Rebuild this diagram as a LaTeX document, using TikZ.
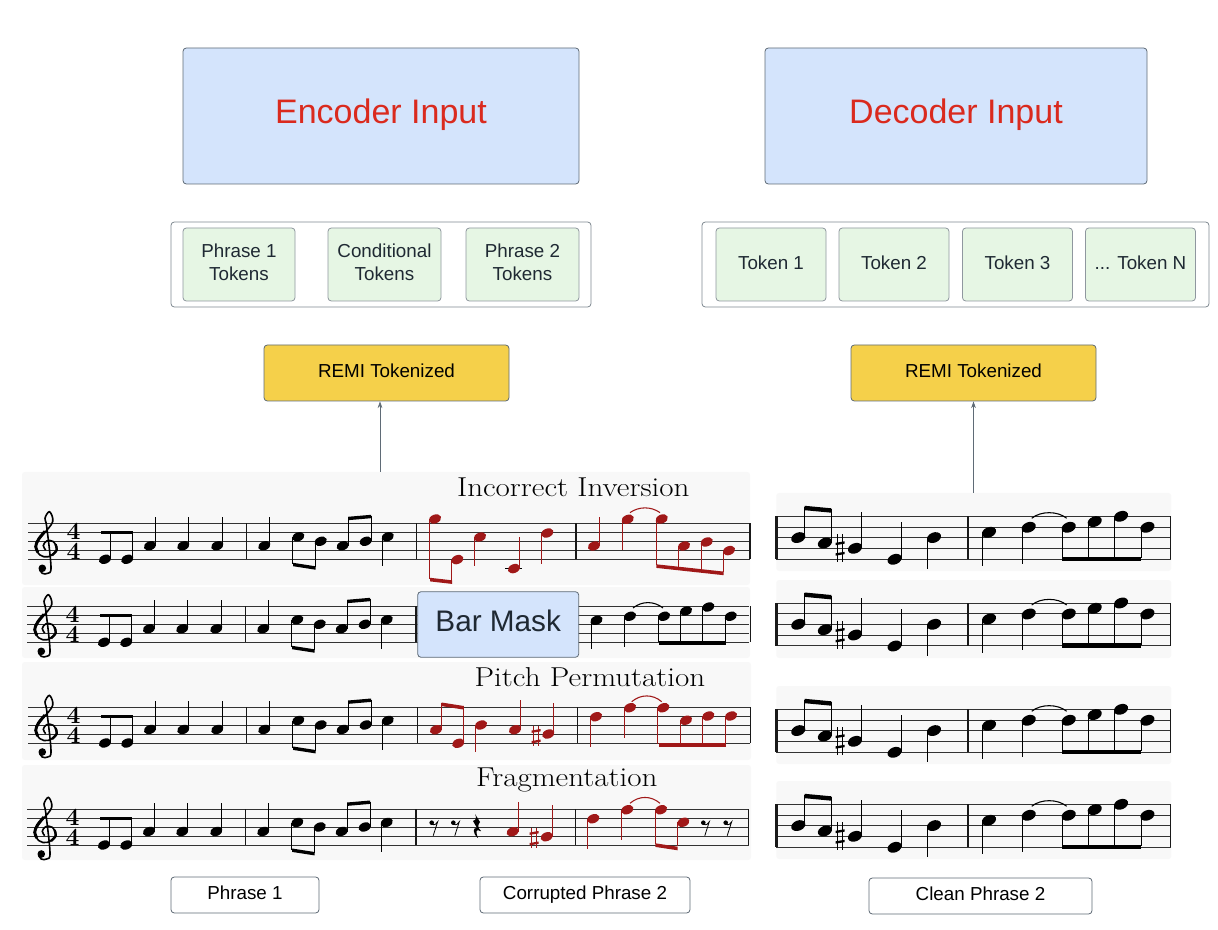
\documentclass[tikz,border=0pt]{standalone}
\usepackage{fontspec}
\usetikzlibrary{arrows.meta}
\newfontfamily\boxfont{Liberation Sans}
\definecolor{inputblue}{HTML}{D4E4FC}
\definecolor{tokengreen}{HTML}{E6F6E4}
\definecolor{remiyellow}{HTML}{F5D04A}
\definecolor{edgegrey}{HTML}{5F6B76}
\definecolor{wrongred}{HTML}{A01818}
\definecolor{panelgrey}{HTML}{F8F8F8}
\definecolor{inktext}{HTML}{1F2933}
\definecolor{titlered}{HTML}{DA2A1E}

\tikzset{
  box/.style={draw=edgegrey,line width=0.6pt,rounded corners=2.5pt,font=\boxfont\fontsize{14.1}{17.25}\selectfont,text=inktext,align=center,inner sep=0pt,text depth=3pt},
  inputbox/.style={box,fill=inputblue,minimum height=102pt,text=titlered,font=\boxfont\fontsize{25.5}{30}\selectfont,text depth=7pt},
  groupbox/.style={box,fill=white,minimum height=63.75pt,draw=edgegrey!80},
  tokenbox/.style={box,fill=tokengreen,minimum height=54.75pt,draw=edgegrey!70},
  remibox/.style={box,fill=remiyellow,minimum width=183.75pt,minimum height=42pt,text=black},
  namebox/.style={box,fill=white,minimum height=27pt,text=black},
  panel/.style={fill=panelgrey,rounded corners=2pt,inner sep=0pt},
  heading/.style={font=\fontsize{20.5}{24}\selectfont,inner sep=0pt,anchor=base,xscale=1.135},
  flow/.style={draw=edgegrey,line width=0.5pt,-{Stealth[length=5pt,width=3.5pt]}},
  stem/.style={line width=0.7pt},
  staffline/.style={draw=black!80,line width=0.65pt},
  barline/.style={draw=black!90,line width=1pt}
}

\def\headrx{4.8pt}
\def\headry{3.3pt}
\def\stemoff{5.5}

% note heads and stems
\newcommand{\notehead}[2]{\fill (#1,#2) ellipse [x radius=\headrx,y radius=\headry,rotate=22];}
\newcommand{\noteup}[3]{\notehead{#1}{#2}\draw[stem] (#1+\stemoff,#2) -- (#1+\stemoff,#3);}
\newcommand{\notedown}[3]{\notehead{#1}{#2}\draw[stem] (#1-\stemoff,#2) -- (#1-\stemoff,#3);}
\newcommand{\beamline}[5]{\fill (#1,#2) -- (#3,#4) -- (#3,#4+#5) -- (#1,#2+#5) -- cycle;}
\newcommand{\tiearc}[4]{\draw[line width=0.8pt] (#1,#3) .. controls (#1+9,#4) and (#2-9,#4) .. (#2,#3);}
\newcommand{\sharpsign}[3]{% x, y, half height
  \draw[line width=0.5pt] (#1-2.6,#2-#3) -- (#1-2.6,#2+#3) (#1+2.6,#2-#3) -- (#1+2.6,#2+#3);
  \beamline{#1-4.5}{#2-5.5}{#1+4.5}{#2-7}{2.4}
  \beamline{#1-4.5}{#2+5}{#1+4.5}{#2+3.5}{2.4}}
\newcommand{\eighthrest}[2]{
  \fill (#1,#2) circle (2.3);
  \draw[line width=0.6pt] (#1,#2+1.5) .. controls (#1+3,#2+3) and (#1+5,#2+1) .. (#1+6,#2-1) -- (#1+1.5,#2+13);}
\newcommand{\quarterrest}[2]{
  \fill (#1-2,#2) -- (#1+3,#2+8) .. controls (#1+1,#2+11) and (#1,#2+13) .. (#1+4,#2+17) -- (#1+3,#2+17)
    .. controls (#1,#2+15) and (#1-2,#2+16) .. (#1+1,#2+24) .. controls (#1-5,#2+19) and (#1-4,#2+13) .. (#1,#2+14)
    -- (#1-4,#2+7) .. controls (#1-1,#2+6) and (#1,#2+4) .. (#1-2,#2) -- cycle;}

% staff with five lines
\newcommand{\musicstaff}[3]{
  \foreach \l in {0,1,2,3,4}{
    \draw[staffline] (#1,\l*#3) -- (#2,\l*#3);
  }}
% treble clef, no font here has it
\newcommand{\clefmark}{
  \fill (42.3,45) circle (3.8);
  \draw[line width=1.2pt] plot[smooth,tension=0.6] coordinates {(39.5,46) (42.3,50) (47.7,50) (51,43.4) (46.7,3.4) (45,-5) (49.3,-11.6) (52.7,-5) (51,1.7) (40,15) (35.7,23.4) (40,31.7) (48.3,33.4) (56.7,26.7) (53.3,18.3) (46.7,17.7) (43.3,22.3) (45.7,26.7)};
  \draw[line width=2.2pt] plot[smooth,tension=0.6] coordinates {(45,8) (38.5,16) (35.7,23.4) (38,29)};
  \draw[line width=1.8pt] plot[smooth,tension=0.6] coordinates {(52,32) (56.7,26.7) (55.5,21)};
  \node[inner sep=0pt,font=\bfseries\fontsize{18.5}{18.5}\selectfont] (meterone) at (73.5,8) {4};
  \node[inner sep=0pt,font=\bfseries\fontsize{18.5}{18.5}\selectfont] (metertwo) at (73.5,28.5) {4};}

% the first phrase, same on all four rows
\newcommand{\phraseone}{
  \musicstaff{28}{750}{9}
  \clefmark
  \noteup{105}{36}{9}
  \noteup{127.3}{36}{9}
  \beamline{100.5}{7.5}{133}{7.5}{3.4}
  \foreach \x in {150,183.3,217.3,264.3}{
    \noteup{\x}{22.5}{-6.5}
  }
  \draw[barline] (246.7,0) -- (246.7,36);
  \notedown{298.3}{13.5}{41}
  \notedown{320.7}{18}{44}
  \beamline{293}{39.5}{315.5}{43}{3.4}
  \noteup{342.7}{22.5}{-6}
  \noteup{365.7}{18}{-7.5}
  \beamline{348}{-6.5}{371}{-8.5}{3.4}
  \notedown{387.7}{13.5}{43}}

% the bars of the clean phrase
\newcommand{\cleanphrase}{
  \musicstaff{776}{1171}{10.67}
  \draw[barline,line width=1.6pt] (776.5,0) -- (776.5,42.7);
  \draw[barline,line width=1.3pt] (968,0) -- (968,42.7);
  \draw[barline] (1170.5,0) -- (1170.5,42.7);
  \def\headrx{5.5pt}\def\headry{3.8pt}\def\stemoff{6.4}
  \noteup{798.3}{21.3}{-9.7}
  \noteup{824.9}{26.7}{-7.3}
  \beamline{804.7}{-10.5}{831.3}{-8}{4.4}
  \sharpsign{840}{32}{14}
  \noteup{855}{32}{-4.7}
  \noteup{894.6}{43}{6}
  \notedown{934}{21.3}{53}
  \notedown{989}{16}{50}
  \notedown{1028.7}{11}{47.3}
  \tiearc{1031.7}{1066.7}{2}{-5.5}
  \foreach \x/\y in {1068.7/11,1094.7/5.3,1121/0,1147.4/11}{
    \notedown{\x}{\y}{42}
  }
  \beamline{1062.3}{40.3}{1141}{40.3}{4.7}}

\begin{document}
\begin{tikzpicture}[x=0.75pt,y=-0.75pt]
\useasboundingbox (0,0) rectangle (1218,930);

% grey strips behind the scores
\node[panel,minimum width=546pt,minimum height=84.75pt] (rowinversion) at (386,528.5) {};
\node[panel,minimum width=546pt,minimum height=53.25pt] (rowmask) at (386,622.5) {};
\node[panel,minimum width=546.75pt,minimum height=73.5pt] (rowpitch) at (386.5,711) {};
\node[panel,minimum width=546.75pt,minimum height=71.25pt] (rowfragment) at (386.5,812.5) {};
\node[panel,minimum width=296.25pt,minimum height=58.5pt] (cleanone) at (973.8,532) {};
\node[panel,minimum width=296.25pt,minimum height=58.5pt] (cleantwo) at (973.8,619) {};
\node[panel,minimum width=296.25pt,minimum height=58.5pt] (cleanthree) at (973.8,725) {};
\node[panel,minimum width=296.25pt,minimum height=58.5pt] (cleanfour) at (973.8,820) {};

% Incorrect Inversion row
\begin{scope}[shift={(0,523.3)}]
\phraseone
\draw[barline] (416.7,0) -- (416.7,36) (576,0) -- (576,36) (750,0) -- (750,36);
\begin{scope}[wrongred]
\notedown{435}{-4.3}{56}
\notedown{457.3}{36.3}{58}
\beamline{430}{54.5}{452}{57}{3.6}
\notedown{480}{13.7}{42.3}
\draw[stem,black] (505,45.3) -- (522,45.3);
\noteup{514}{45.3}{13.7}
\notedown{547.3}{9.7}{40.7}
\noteup{594}{22.7}{-6.3}
\notedown{627.7}{-4}{26.7}
\tiearc{630}{660}{-10.7}{-17}
\notedown{661.7}{-4.3}{42}
\notedown{684}{22.7}{45}
\notedown{706.7}{18.7}{47}
\notedown{729}{27.3}{49}
\beamline{656.3}{41}{723.7}{48.3}{3.6}
\end{scope}
\end{scope}

% Bar Mask row
\begin{scope}[shift={(-1,606.3)}]
\phraseone
\draw[barline] (417,0) -- (417,36) (751.5,0) -- (751.5,36);
\notedown{597.5}{14}{43}
\notedown{631}{10}{41}
\tiearc{634}{664}{1.7}{-5.5}
\foreach \x/\y in {665/10,687/4.7,709.3/0.7,731.7/10}{
  \notedown{\x}{\y}{36}
}
\beamline{660}{34.7}{726.7}{34.7}{3.7}
\end{scope}

% Pitch Permutation row
\begin{scope}[shift={(0,707)}]
\phraseone
\draw[barline] (417.3,0) -- (417.3,36) (577.3,0) -- (577.3,36) (750.5,0) -- (750.5,36);
\begin{scope}[wrongred]
\noteup{436}{22.7}{-4.3}
\noteup{458.3}{36.3}{-1}
\beamline{441.5}{-4.5}{463.8}{-1}{3.6}
\notedown{481}{18}{45}
\noteup{515}{22.7}{-7}
\sharpsign{536}{29}{10}
\noteup{548.3}{27}{-4.3}
\notedown{596}{9.7}{40.3}
\notedown{630}{0.7}{31.3}
\tiearc{631.7}{661.7}{-5.3}{-13}
\foreach \x/\y in {663.3/0.7,686/13.3,708.3/9,731/9}{
  \notedown{\x}{\y}{37}
}
\beamline{658.7}{36.3}{725.7}{36.3}{3.7}
\end{scope}
\end{scope}

% Fragmentation row
\begin{scope}[shift={(-1,809)}]
\phraseone
\draw[barline] (417,0) -- (417,36) (576.7,0) -- (576.7,36) (749.3,0) -- (749.3,36);
\eighthrest{432.7}{13.7}
\eighthrest{454.3}{13.7}
\quarterrest{478}{5}
\begin{scope}[wrongred]
\noteup{513.7}{22.7}{-6.7}
\sharpsign{535}{29}{10}
\noteup{547.7}{27.7}{-4}
\notedown{594.3}{9.7}{40}
\notedown{628.3}{0.7}{31}
\tiearc{631}{661}{-5.7}{-13.5}
\notedown{662}{0.7}{35}
\notedown{684.3}{13.3}{37}
\beamline{656.3}{34.3}{678.7}{37.7}{3.6}
\end{scope}
\eighthrest{704.3}{13.7}
\eighthrest{726.7}{13.7}
\end{scope}

% Clean phrase, four times
\begin{scope}[shift={(0,516.3)}] \cleanphrase \end{scope}
\begin{scope}[shift={(0,603)}] \cleanphrase \end{scope}
\begin{scope}[shift={(0,709.3)}] \cleanphrase \end{scope}
\begin{scope}[shift={(0,804.3)}] \cleanphrase \end{scope}

\node[heading] (titleinversion) at (573.3,496.7) {Incorrect Inversion};
\node[heading] (titlepitch) at (590,686.7) {Pitch Permutation};
\node[heading] (titlefragment) at (566.7,786.7) {Fragmentation};

\node[box,fill=inputblue,minimum width=120.75pt,minimum height=49.2pt,font=\boxfont\fontsize{22.3}{26}\selectfont,text depth=6pt] (barmask) at (498.2,624.5) {Bar Mask};

% top boxes
\node[inputbox,minimum width=297pt] (encoderinput) at (381,116) {Encoder Input};
\node[inputbox,minimum width=286.5pt] (decoderinput) at (956,116) {Decoder Input};

\node[groupbox,minimum width=315pt] (encodergroup) at (381,264.5) {};
\node[groupbox,minimum width=380.25pt] (decodergroup) at (955.5,264.5) {};

\node[tokenbox,minimum width=84pt] (phraseonetokens) at (239,264.5) {Phrase 1\\Tokens};
\node[tokenbox,minimum width=84.75pt] (condtokens) at (384.5,264.5) {Conditional\\Tokens};
\node[tokenbox,minimum width=84.75pt] (phrasetwotokens) at (522.5,264.5) {Phrase 2\\Tokens};

\foreach \nm/\x/\lab in {tokenone/771/Token 1,tokentwo/894/Token 2,tokenthree/1017.5/Token 3}{
  \node[tokenbox,minimum width=82.5pt] (\nm) at (\x,264.5) {\lab};
}
\node[tokenbox,minimum width=82.5pt] (tokenn) at (1140.5,264.5) {... Token N};

\node[remibox] (remienc) at (386.5,373) {REMI Tokenized};
\node[remibox] (remidec) at (973.5,373) {REMI Tokenized};

\coordinate (enctail) at (380,472);
\coordinate (dectail) at (973.5,493);
\draw[flow] (enctail) -- (enctail |- remienc.south);
\draw[flow] (dectail) -- (remidec.south);

% names under the scores
\node[namebox,minimum width=111pt] (phraseonelabel) at (245,895) {Phrase 1};
\node[namebox,minimum width=157.5pt] (corruptlabel) at (585,895) {Corrupted Phrase 2};
\node[namebox,minimum width=167.25pt] (cleanlabel) at (980.5,896) {Clean Phrase 2};
\end{tikzpicture}
\end{document}
